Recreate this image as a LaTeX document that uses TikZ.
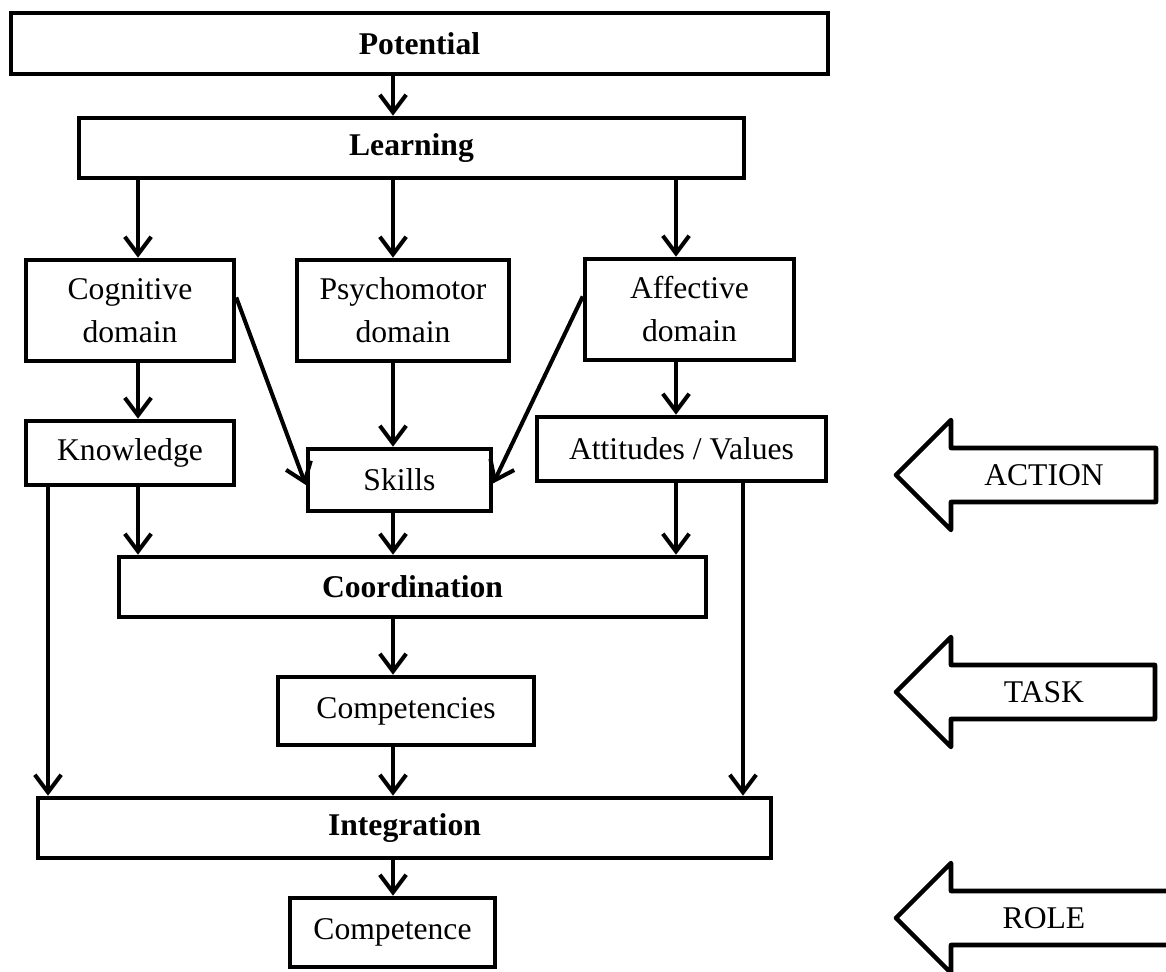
\documentclass[tikz,border=0pt]{standalone}
\usepackage{fontspec}
\setmainfont{Liberation Serif}
\usetikzlibrary{arrows.meta}

\begin{document}
\begin{tikzpicture}[x=0.02cm,y=-0.02cm,
  cell/.style={draw,line width=2.6pt,inner sep=0pt,align=center,
               font=\fontsize{18}{24.5}\selectfont},
  stage/.style={cell,font=\fontsize{18}{24.5}\selectfont\bfseries},
  arr/.style={-{Straight Barb[length=10pt,width=15pt]},line width=2.3pt},
  sidearrow/.style={draw,line width=2.6pt,line join=round}]
\useasboundingbox (0,0) rectangle (1166,972);
\clip (0,0) rectangle (1166,972);

% stages and domains
\node[stage,minimum width=16.34cm,minimum height=1.22cm] (pot)   at (419.5,43.5) {Potential};
\node[stage,minimum width=13.30cm,minimum height=1.20cm] (learn) at (411.5,148)  {Learning};
\node[cell,minimum width=4.16cm,minimum height=2.02cm]   (cog)   at (130,310.5)  {Cognitive\\domain};
\node[cell,minimum width=4.24cm,minimum height=2.02cm]   (psy)   at (403,310.5)  {Psychomotor\\domain};
\node[cell,minimum width=4.18cm,minimum height=2.02cm]   (aff)   at (689.5,309.5) {Affective\\domain};
\node[cell,minimum width=4.16cm,minimum height=1.28cm]   (know)  at (130,453)    {Knowledge};
\node[cell,minimum width=3.66cm,minimum height=1.24cm]   (skills) at (399.5,480) {Skills};
\node[cell,minimum width=5.78cm,minimum height=1.28cm]   (att)   at (681.5,449)  {Attitudes / Values};
\node[stage,minimum width=11.74cm,minimum height=1.20cm] (coord) at (412.5,587)  {Coordination};
\node[cell,minimum width=5.12cm,minimum height=1.36cm]   (comp)  at (406,711)    {Competencies};
\node[stage,minimum width=14.66cm,minimum height=1.20cm] (integ) at (404.5,828)  {Integration};
\node[cell,minimum width=4.10cm,minimum height=1.38cm]   (compe) at (392.5,932.5) {Competence};

% arrow columns
\coordinate (colL) at (138,0);
\coordinate (colM) at (393,0);
\coordinate (colR) at (676,0);
\coordinate (farL) at (48,0);
\coordinate (farR) at (743,0);

\draw[arr] (pot.south -| colM) -- (learn.north -| colM);
\foreach \t/\c in {cog/colL,psy/colM,aff/colR}
  \draw[arr] (learn.south -| \c) -- (\t.north -| \c);
\draw[arr] (cog.south -| colL) -- (know.north -| colL);
\draw[arr] (psy.south -| colM) -- (skills.north -| colM);
\draw[arr] (aff.south -| colR) -- (att.north -| colR);
\draw[arr] (cog.7) -- (skills.183);
\draw[arr] (aff.173) -- (skills.358);
\foreach \t/\c in {know/colL,skills/colM,att/colR}
  \draw[arr] (\t.south -| \c) -- (coord.north -| \c);
\draw[arr] (know.south -| farL) -- (integ.north -| farL);
\draw[arr] (att.south -| farR) -- (integ.north -| farR);
\draw[arr] (coord.south -| colM) -- (comp.north -| colM);
\draw[arr] (comp.south -| colM) -- (integ.north -| colM);
\draw[arr] (integ.south -| colM) -- (compe.north -| colM);

% side arrows
\foreach \lbl/\yc/\xr in {ACTION/475/1156,TASK/692/1155,ROLE/918/1190}{
  \draw[sidearrow] (896,\yc) -- (951,\yc-55) -- (951,\yc-27) -- (\xr,\yc-27)
    -- (\xr,\yc+27) -- (951,\yc+27) -- (951,\yc+55) -- cycle;
  \node[font=\fontsize{18}{24.5}\selectfont] (\lbl) at (1044,\yc) {\lbl};
}
\end{tikzpicture}
\end{document}
